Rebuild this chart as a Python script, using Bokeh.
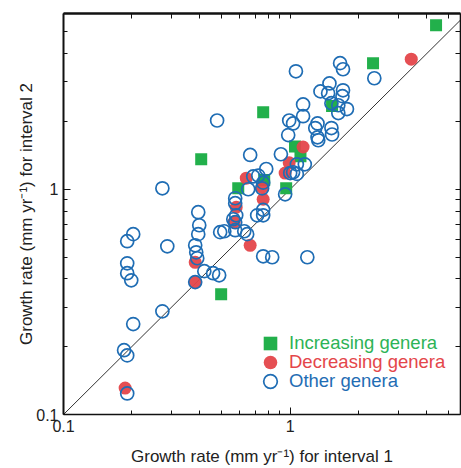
from bokeh.plotting import figure
from bokeh.models import LogAxis, FixedTicker, Legend, LegendItem
from bokeh.embed import file_html
from bokeh.resources import INLINE

# Increasing genera
inc_x = [4.40, 2.32, 0.760, 0.405, 1.53, 1.05, 1.11, 0.768, 0.590, 0.96, 0.496]
inc_y = [5.35, 3.63, 2.20, 1.36, 2.34, 1.55, 1.40, 1.10, 1.01, 1.01, 0.342]

# Decreasing genera
dec_x = [3.42, 1.14, 0.99, 0.95, 0.752, 0.760, 0.640, 0.578, 0.566, 0.666, 0.381, 0.381, 0.187]
dec_y = [3.78, 1.54, 1.31, 1.18, 1.02, 0.903, 1.12, 0.832, 0.714, 0.564, 0.474, 0.387, 0.131]

# Other genera
oth_x = [0.476, 0.666, 0.273, 0.653, 0.572, 0.572, 0.687, 0.723, 0.784, 0.752, 0.393,
         1.66, 1.71, 1.06, 2.35, 1.49, 1.36, 1.71, 1.47, 1.70, 1.14, 1.52, 1.63, 1.78,
         1.63, 1.14, 0.99, 1.03, 1.32, 1.29, 1.52, 1.53, 0.98, 1.32, 1.33, 0.91, 1.07,
         1.16, 1.00, 1.03, 1.07, 0.76, 0.95, 0.76, 0.578, 0.715, 0.76, 0.561, 0.397,
         0.393, 0.381, 0.385, 0.389, 0.381, 0.491, 0.512, 0.572, 0.572, 0.627, 0.646,
         0.76, 0.833, 1.19, 0.418, 0.457, 0.486, 0.191, 0.203, 0.287, 0.191, 0.191,
         0.199, 0.273, 0.203, 0.185, 0.191, 0.191]
oth_y = [2.02, 1.42, 1.01, 1.00, 0.912, 0.867, 1.14, 1.15, 1.23, 1.01, 0.791,
         3.63, 3.41, 3.34, 3.11, 2.95, 2.72, 2.75, 2.67, 2.59, 2.38, 2.41, 2.36, 2.27,
         2.18, 2.11, 2.02, 1.96, 1.96, 1.87, 1.87, 1.75, 1.74, 1.70, 1.65, 1.43, 1.29,
         1.29, 1.18, 1.19, 1.17, 1.07, 0.95, 0.81, 0.766, 0.766, 0.766, 0.736, 0.692,
         0.632, 0.564, 0.525, 0.494, 0.387, 0.645, 0.651, 0.714, 0.658, 0.651, 0.632,
         0.504, 0.499, 0.499, 0.433, 0.424, 0.415, 0.588, 0.632, 0.558, 0.469, 0.424,
         0.394, 0.287, 0.252, 0.193, 0.183, 0.124]

one_to_one = [0.1, 10.0]
major_ticks = [0.1, 1.0, 10.0]
minor_ticks = [0.2, 0.3, 0.4, 0.5, 0.6, 0.7, 0.8, 0.9, 2, 3, 4, 5, 6, 7, 8, 9]
tick_labels = {0.1: "0.1", 1: "1", 10: "10"}

x_label = "Growth rate (mm yr\u207b\u00b9) for interval 1"
y_label = "Growth rate (mm yr\u207b\u00b9) for interval 2"
names = ["Increasing genera", "Decreasing genera", "Other genera"]
colors = ["#22b04b", "#e4464a", "#1f6db4"]
text_colors = ["#2db356", "#e4464a", "#1f6db4"]

FONT = "Liberation Sans"

p = figure(width=461, height=468, x_axis_type="log", y_axis_type="log",
           x_range=(0.1, 5.64), y_range=(0.1, 6.03),
           output_backend="svg", toolbar_location=None,
           min_border_left=63, min_border_right=1, min_border_top=13, min_border_bottom=54)
p.grid.visible = False
p.outline_line_color = None
p.background_fill_color = "white"
p.border_fill_color = "white"

p.line(one_to_one, one_to_one, line_color="#333333", line_width=1)

r_inc = p.scatter(inc_x, inc_y, marker="square", size=12, fill_color=colors[0], line_color=None)
r_dec = p.scatter(dec_x, dec_y, marker="circle", size=13, fill_color=colors[1], line_color=None, fill_alpha=0.95)
r_oth = p.scatter(oth_x, oth_y, marker="circle", size=13, fill_color=None, line_color=colors[2], line_width=1.7)

# frame-only axes on the right and top: ticks without labels
frame_ticker = FixedTicker(ticks=[], minor_ticks=major_ticks + minor_ticks)
for side in ["right", "above"]:
    ax = LogAxis(ticker=frame_ticker, minor_tick_in=5, minor_tick_out=0,
                 major_tick_in=0, major_tick_out=0, major_label_standoff=0,
                 axis_line_color="#111111", axis_line_width=1.6,
                 minor_tick_line_color="#111111")
    p.add_layout(ax, side)
p.above[0].axis_line_width = 2.5

ticker = FixedTicker(ticks=major_ticks, minor_ticks=minor_ticks)
for ax in [p.below[0], p.left[0]]:
    ax.ticker = ticker
    ax.major_tick_in = 7
    ax.major_tick_out = 0
    ax.minor_tick_in = 4
    ax.minor_tick_out = 0
    ax.axis_line_color = "#111111"
    ax.axis_line_width = 1.6
    ax.major_tick_line_color = "#111111"
    ax.minor_tick_line_color = "#111111"
    ax.major_label_overrides = tick_labels
    ax.major_label_text_font = FONT
    ax.major_label_text_font_size = "16px"
    ax.major_label_text_color = "#222222"
    ax.axis_label_text_font = FONT
    ax.axis_label_text_font_size = "17px"
    ax.axis_label_text_font_style = "normal"
    ax.axis_label_text_color = "#222222"

p.left[0].axis_line_width = 2

p.below[0].axis_label = x_label
p.left[0].axis_label = y_label
p.below[0].axis_label_standoff = 12
p.left[0].axis_label_standoff = -3

legend_y = [54, 35, 16]
for name, rend, tc, ly in zip(names, [r_inc, r_dec, r_oth], text_colors, legend_y):
    leg = Legend(items=[LegendItem(label=name, renderers=[rend])],
                 location=(190, ly), padding=0, margin=0,
                 glyph_width=34, glyph_height=34, label_standoff=2,
                 label_text_font=FONT, label_text_font_size="18.5px",
                 label_text_color=tc, border_line_color=None,
                 background_fill_alpha=0)
    p.add_layout(leg)

open("out.html", "w").write(file_html(p, INLINE))
